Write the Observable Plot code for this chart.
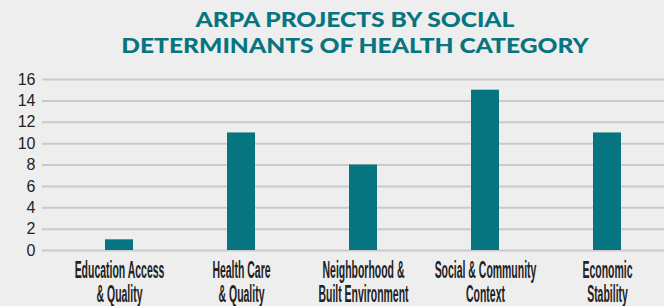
<!DOCTYPE html>
<html><head><meta charset="utf-8">
<script src="https://cdn.jsdelivr.net/npm/d3@7"></script>
<script src="https://cdn.jsdelivr.net/npm/@observablehq/plot@0.6"></script>
<style>
html,body{margin:0;padding:0;background:#eeeeee;width:664px;height:306px;overflow:hidden;position:relative;}
#title{position:absolute;left:0;top:5.7px;width:710px;text-align:center;font-family:Lato,"Open Sans",sans-serif;font-weight:900;font-size:20px;line-height:26.6px;color:#077580;margin:0;transform:scaleX(1.23);transform-origin:355px 0;}
#chart{position:absolute;left:0;top:60px;}
</style>
</head><body>
<div id="title">ARPA PROJECTS BY SOCIAL<br>DETERMINANTS OF HEALTH CATEGORY</div>
<div id="chart"></div>
<script>
const categories = ["Education Access\n& Quality", "Health Care\n& Quality", "Neighborhood &\nBuilt Environment", "Social & Community\nContext", "Economic\nStability"];
const projects = [1, 11, 8, 15, 11];
const yTicks = [0, 2, 4, 6, 8, 10, 12, 14, 16];

const data = categories.map((c, i) => ({category: c, value: projects[i]}));

const chart = Plot.plot({
  width: 664,
  height: 246,
  marginLeft: 42,
  marginRight: 0,
  marginTop: 19,
  marginBottom: 56,
  style: {background: "transparent", color: "#222", fontFamily: "'Liberation Sans', Arial, sans-serif"},
  x: {type: "band", domain: categories, range: [58, 668], paddingInner: 0.77, paddingOuter: 0.385, label: null},
  y: {domain: [0, 16], ticks: yTicks, label: null},
  marks: [
    Plot.ruleY(yTicks, {stroke: "#cacaca", strokeWidth: 2}),
    Plot.barY(data, {x: "category", y: "value", fill: "#077580"}),
    Plot.axisY({ticks: yTicks, tickSize: 0, tickPadding: 7, fontSize: 16, label: null}),
    Plot.axisX({tickSize: 0, tickPadding: 10, fontSize: 23, lineHeight: 1.05, label: null})
  ]
});
document.getElementById("chart").appendChild(chart);

d3.select(chart).selectAll('g[aria-label="x-axis tick label"] text').each(function() {
  const t = this.getAttribute("transform") || "";
  this.setAttribute("transform", t + " scale(0.455,1)");
  this.setAttribute("font-weight", "bold");
});
</script>
</body></html>
